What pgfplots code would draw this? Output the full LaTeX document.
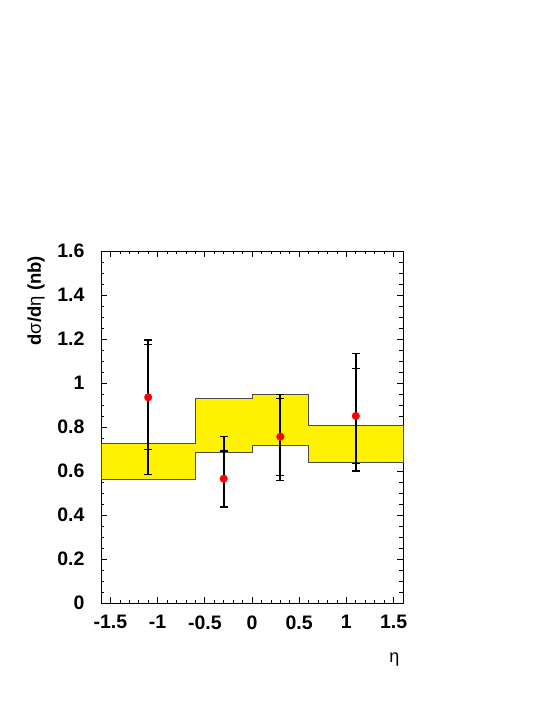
\documentclass[border=0pt]{standalone}
\usepackage{fontspec}
\setmainfont{Liberation Sans}
\usepackage{pgfplots}
\pgfplotsset{compat=1.18}
\begin{document}
\begin{tikzpicture}[x=1pt,y=1pt]
\useasboundingbox (0,0) rectangle (545,705);
\begin{axis}[
  at={(101pt,102pt)}, anchor=south west,
  width=302pt, height=352pt, scale only axis,
  xmin=-1.6, xmax=1.6, ymin=0, ymax=1.6,
  xtick={-1.5,-1,-0.5,0,0.5,1,1.5},
  ytick={0,0.2,0.4,0.6,0.8,1,1.2,1.4,1.6},
  minor x tick num=4, minor y tick num=3,
  tick align=inside, tick pos=both,
  major tick length=6pt, minor tick length=3.5pt,
  every tick/.style={black, line width=0.7pt},
  axis line style={black, line width=0.8pt},
  /pgf/number format/assume math mode=true,
  ticklabel style={font=\fontsize{19.5}{19.5}\selectfont\bfseries},
  xticklabel style={yshift=-9pt},
  yticklabel style={xshift=-13pt},
  xlabel={\fontsize{18}{18}\selectfont η},
  xlabel style={at={(rel axis cs:1,0)}, anchor=north east, yshift=-46pt},
  ylabel={\fontsize{18.5}{18.5}\selectfont\bfseries d{\mdseries σ}/d{\mdseries η} (nb)},
  ylabel style={at={(rel axis cs:-0.215,0.996)}, anchor=east, rotate=0},
  clip=false,
]
\addplot[fill=yellow, draw=black!70, line width=0.6pt] coordinates {
  (-1.6,0.562) (-1.6,0.726) (-0.6,0.726) (-0.6,0.930) (0,0.930) (0,0.949)
  (0.6,0.949) (0.6,0.808) (1.6,0.808) (1.6,0.640) (0.6,0.640) (0.6,0.717)
  (0,0.717) (0,0.685) (-0.6,0.685) (-0.6,0.562)
} -- cycle;
% total errors
\addplot[draw=none, mark=none,
  error bars/.cd, y dir=both, y explicit,
  error bar style={black, line width=1.8pt},
  error mark options={rotate=90, mark size=4pt, line width=1.2pt, black}]
  table[x=x, y=y, y error plus=ep, y error minus=em] {
  x     y      ep     em
  -1.1  0.935  0.260  0.350
  -0.3  0.565  0.193  0.132
  0.3   0.756  0.193  0.200
  1.1   0.850  0.283  0.250
};
% statistical errors
\addplot[draw=none, mark=none,
  error bars/.cd, y dir=both, y explicit,
  error bar style={black, line width=1.8pt},
  error mark options={rotate=90, mark size=4pt, line width=1.2pt, black}]
  table[x=x, y=y, y error plus=ep, y error minus=em] {
  x     y      ep     em
  -1.1  0.935  0.239  0.236
  -0.3  0.565  0.126  0.129
  0.3   0.756  0.174  0.177
  1.1   0.850  0.217  0.215
};
\addplot[only marks, mark=*, mark size=3.8pt, color=red, mark options={draw=red, fill=red}]
  table {
  x     y
  -1.1  0.935
  -0.3  0.565
  0.3   0.756
  1.1   0.850
};
\end{axis}
\end{tikzpicture}
\end{document}
